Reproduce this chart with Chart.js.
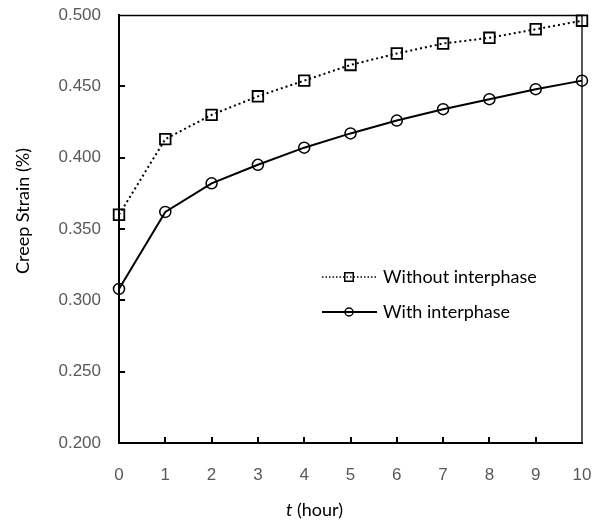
<!DOCTYPE html>
<html>
<head>
<meta charset="utf-8">
<script src="https://cdn.jsdelivr.net/npm/chart.js@4.4.1/dist/chart.umd.min.js"></script>
<style>
  html, body { margin: 0; padding: 0; background: #fff; }
  #wrap { width: 592px; height: 522px; }
</style>
</head>
<body>
<div id="wrap"><canvas id="creepChart" width="592" height="522"></canvas></div>
<script>
// data
var hours = [0, 1, 2, 3, 4, 5, 6, 7, 8, 9, 10];
var withoutInterphase = [0.360, 0.413, 0.430, 0.443, 0.454, 0.465, 0.473, 0.480, 0.484, 0.490, 0.496];
var withInterphase = [0.308, 0.362, 0.382, 0.395, 0.407, 0.417, 0.426, 0.434, 0.441, 0.448, 0.454];
var seriesLabels = ['Without interphase', 'With interphase'];
var yTitle = 'Creep Strain (%)';

function toPoints(vals) {
  return hours.map(function (h, i) { return { x: h, y: vals[i] }; });
}

var labelFont = '"Lato", "Noto Sans", sans-serif';
var tickFont = '"Liberation Sans", Arial, sans-serif';

// box, inward ticks, axis titles and the line+marker legend
var extrasPlugin = {
  id: 'extras',
  afterDraw: function (chart) {
    var ctx = chart.ctx;
    var a = chart.chartArea;
    var xs = chart.scales.x, ys = chart.scales.y;
    ctx.save();
    ctx.strokeStyle = '#000';

    // thin top / right frame
    ctx.lineWidth = 1.3;
    ctx.beginPath();
    ctx.moveTo(a.left, a.top + 0.5);
    ctx.lineTo(a.right, a.top + 0.5);
    ctx.lineTo(a.right, a.bottom);
    ctx.stroke();

    // inward ticks
    ctx.lineWidth = 2;
    ctx.beginPath();
    ys.ticks.forEach(function (t) {
      var py = Math.round(ys.getPixelForValue(t.value));
      if (t.value <= ys.min + 1e-9 || t.value >= ys.max - 1e-9) return;
      ctx.moveTo(a.left, py);
      ctx.lineTo(a.left + 6, py);
    });
    xs.ticks.forEach(function (t) {
      var px = Math.round(xs.getPixelForValue(t.value));
      if (t.value <= xs.min || t.value >= xs.max) return;
      ctx.moveTo(px, a.bottom);
      ctx.lineTo(px, a.bottom - 6);
    });
    ctx.stroke();

    // x axis title with italic t
    ctx.fillStyle = '#000';
    ctx.textBaseline = 'middle';
    ctx.textAlign = 'left';
    var sx = 286, ty = 510;
    ctx.font = 'italic 18px ' + labelFont;
    ctx.fillText('t', sx, ty);
    var w1 = ctx.measureText('t').width;
    ctx.font = '18px ' + labelFont;
    ctx.fillText(' (hour)', sx + w1, ty);

    // y axis title, rotated
    ctx.save();
    ctx.translate(23, 274);
    ctx.rotate(-Math.PI / 2);
    ctx.font = '18px ' + labelFont;
    ctx.fillText(yTitle, 0, 0);
    ctx.restore();

    // legend
    var rowsY = [277, 312];
    chart.data.datasets.forEach(function (ds, i) {
      var y = rowsY[i];
      ctx.strokeStyle = '#000';
      ctx.lineWidth = i === 0 ? 1.3 : 2;
      ctx.setLineDash(i === 0 ? [1.5, 2] : []);
      ctx.beginPath();
      ctx.moveTo(322, y);
      ctx.lineTo(377, y);
      ctx.stroke();
      ctx.setLineDash([]);
      ctx.lineWidth = 1.5;
      ctx.fillStyle = 'rgba(0,0,0,0)';
      Chart.helpers.drawPoint(ctx, {
        pointStyle: ds.pointStyle,
        radius: ds.pointRadius - 1.5,
        borderWidth: 1.5
      }, 349, y);
      ctx.fillStyle = '#000';
      ctx.font = '18px ' + labelFont;
      ctx.textAlign = 'left';
      ctx.fillText(ds.label, 383, y);
    });
    ctx.restore();
  }
};

function noScalePadding(scale) {
  scale.paddingTop = 0;
  scale.paddingBottom = 0;
  scale.paddingLeft = 0;
  scale.paddingRight = 0;
}

var creepChart = document.getElementById('creepChart');
var creepChartConfig = {
  type: 'line',
  data: {
    datasets: [{
      label: seriesLabels[0],
      data: toPoints(withoutInterphase),
      borderColor: '#000',
      borderWidth: 2,
      borderDash: [2, 3],
      pointStyle: 'rect',
      pointRadius: 7.5,
      pointBorderWidth: 1.8,
      pointBorderColor: '#000',
      pointBackgroundColor: 'rgba(0,0,0,0)',
      clip: false,
      tension: 0
    }, {
      label: seriesLabels[1],
      data: toPoints(withInterphase),
      borderColor: '#000',
      borderWidth: 2,
      pointStyle: 'circle',
      pointRadius: 5.5,
      pointBorderWidth: 1.5,
      pointBorderColor: '#000',
      pointBackgroundColor: 'rgba(0,0,0,0)',
      clip: false,
      tension: 0
    }]
  },
  options: {
    responsive: false,
    animation: false,
    devicePixelRatio: 1,
    layout: { padding: { top: 15, right: 10, bottom: 0, left: 0 } },
    plugins: {
      legend: { display: false },
      tooltip: { enabled: false }
    },
    scales: {
      x: {
        type: 'linear',
        min: 0,
        max: 10,
        ticks: {
          stepSize: 1,
          padding: 22,
          color: '#595959',
          font: { family: tickFont, size: 17 }
        },
        grid: { display: false, drawTicks: false },
        border: { display: true, color: '#000', width: 2 },
        afterFit: function (scale) {
          scale.height = 79;
          noScalePadding(scale);
        }
      },
      y: {
        min: 0.2,
        max: 0.5,
        ticks: {
          stepSize: 0.05,
          padding: 18,
          color: '#595959',
          font: { family: tickFont, size: 17 },
          callback: function (v) { return v.toFixed(3); }
        },
        grid: { display: false, drawTicks: false },
        border: { display: true, color: '#000', width: 2 },
        afterFit: function (scale) {
          scale.width = 119;
          noScalePadding(scale);
        }
      }
    }
  },
  plugins: [extrasPlugin]
};
var creepChartObj = new Chart(creepChart, creepChartConfig);
</script>
</body>
</html>
